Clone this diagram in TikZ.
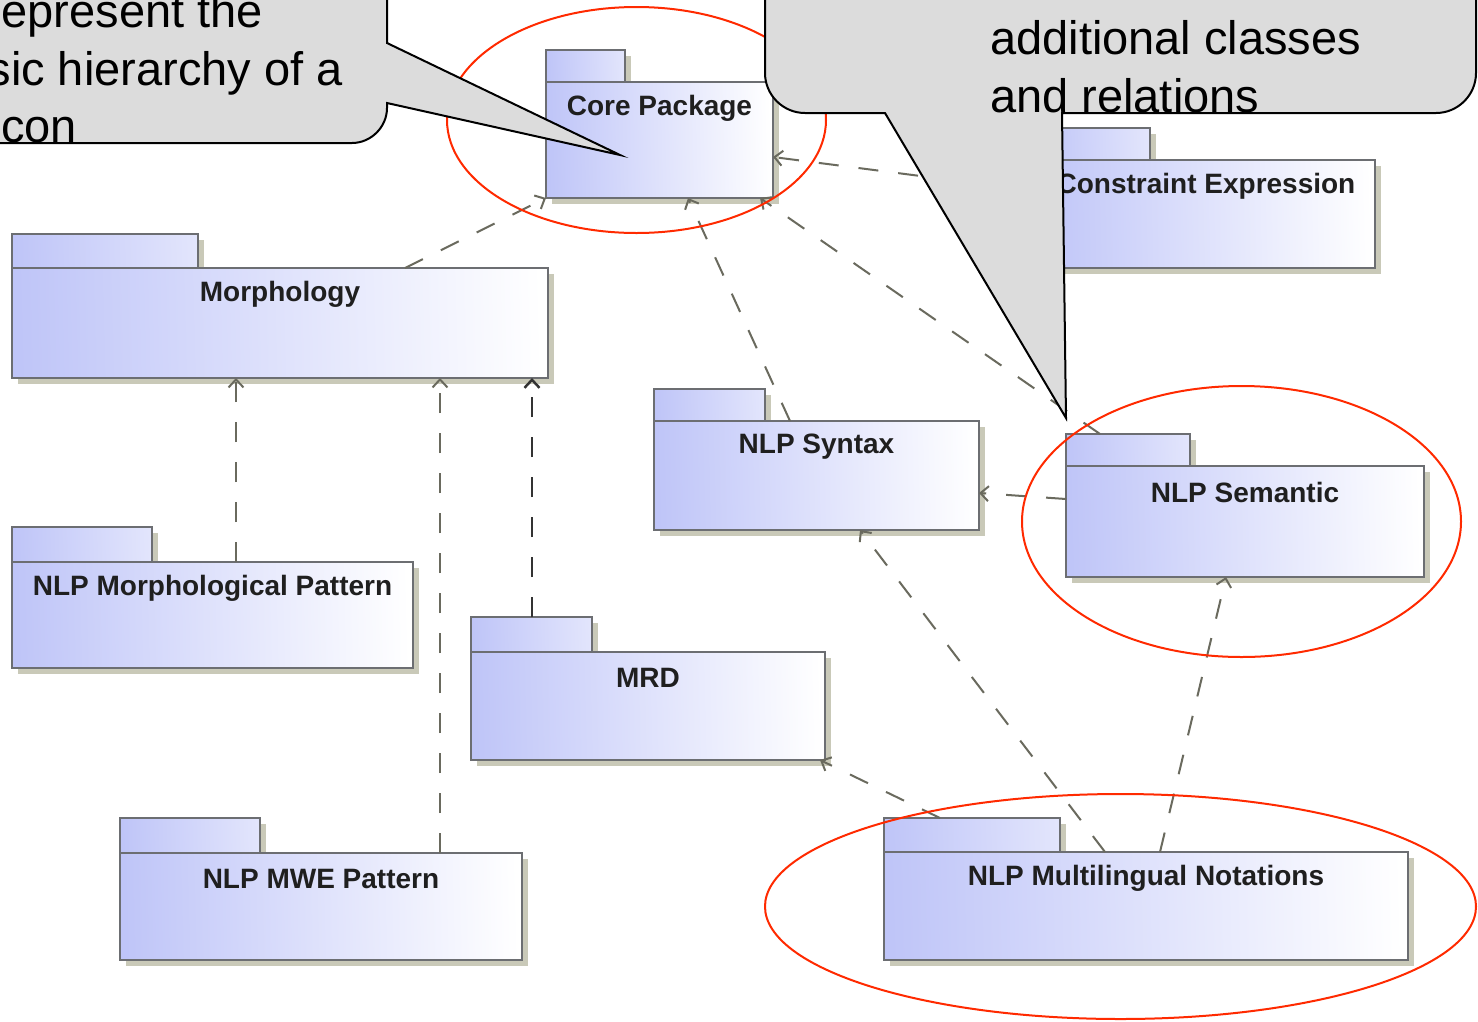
\documentclass[tikz,border=0pt]{standalone}
\usepackage{fontspec}
\setmainfont{Liberation Sans}
\usetikzlibrary{arrows.meta,calc}

\definecolor{pkgblue}{HTML}{BFC5F8}
\definecolor{pkgline}{HTML}{6C6E72}
\definecolor{pkgshadow}{HTML}{C9C9B8}
\definecolor{depgray}{HTML}{6A6A5E}
\definecolor{depdark}{HTML}{333333}
\definecolor{ringred}{HTML}{FF2A00}
\definecolor{notegray}{HTML}{DCDCDC}

\tikzset{
  pkgpart/.style={anchor=north west, inner sep=0pt, outer sep=0pt,
    draw=pkgline, line width=2.5pt},
  pkgbodyfill/.style={left color=pkgblue, right color=white, shading angle=91.5},
  pkgtabfill/.style={left color=pkgblue, right color=pkgblue!45!white, shading angle=92},
  pkglabel/.style={inner sep=0pt, text=black!88,
    font=\fontsize{28}{30}\selectfont\bfseries},
  dep/.style={draw=depgray, line width=2pt, dash pattern=on 20pt off 20pt,
    -{Straight Barb[length=8pt,width=15pt]}},
  depstrong/.style={dep, draw=depdark, line width=2.5pt},
  ring/.style={draw=ringred, line width=2pt},
  note/.style={fill=notegray, draw=black, line width=2pt, line join=miter},
  notetext/.style={inner sep=0pt, font=\fontsize{47}{57}\selectfont}
}

% UML package: name, left x, tab top, tab right, body top, right x, bottom, label
\newcommand\umlpkg[8]{%
  \fill[pkgshadow] (#2+6,#3+6) rectangle (#4+6,#5+6);
  \fill[pkgshadow] (#2+6,#5+6) rectangle (#6+6,#7+6);
  \node[pkgpart, pkgtabfill, minimum width=#4pt-#2pt, minimum height=#5pt-#3pt] (#1tab) at (#2,#3) {};
  \node[pkgpart, pkgbodyfill, minimum width=#6pt-#2pt, minimum height=#7pt-#5pt] (#1) at (#2,#5) {};
  \node[pkglabel] at ([yshift=-26pt]#1.north) {#8};
}

\begin{document}
\begin{tikzpicture}[x=1pt, y=-1pt]
\useasboundingbox (0,0) rectangle (1478,1021);
\fill[white] (0,0) rectangle (1478,1021);

% packages
\umlpkg{cexp}{1037}{128}{1150}{160}{1375}{268}{Constraint Expression}
\umlpkg{core}{546}{50}{625}{82}{773}{198}{Core Package}
\umlpkg{morph}{12}{234}{198}{268}{548}{378}{Morphology}
\umlpkg{syntax}{654}{389}{765}{421}{979}{530}{NLP Syntax}
\umlpkg{sem}{1066}{434}{1190}{466}{1424}{577}{NLP Semantic}
\umlpkg{mpat}{12}{527}{152}{562}{413}{668}{NLP Morphological Pattern}
\umlpkg{mrd}{471}{617}{592}{652}{825}{760}{MRD}
\umlpkg{mwe}{120}{818}{260}{853}{522}{960}{NLP MWE Pattern}
\umlpkg{multi}{884}{818}{1060}{852}{1408}{960}{NLP Multilingual Notations}

% dependencies
\draw[dep] ($(morph.north west)+(393,0)$) -- (core.south west);
\draw[dep] ($(syntax.north west)+(136,0)$) -- ($(core.south west)+(142,0)$);
\draw[dep] ($(semtab.north west)+(34,0)$) -- ($(core.south west)+(214,0)$);
\draw[dep] ($(cexp.north west)+(0,31)$) -- ($(core.north east)+(0,75)$);
\draw[dep] ($(sem.north west)+(0,33)$) -- ($(syntax.north east)+(0,72)$);
\draw[dep] ($(mpat.north west)+(224,0)$) -- ($(morph.south west)+(224,0)$);
\draw[dep] ($(mwe.north west)+(320,0)$) -- ($(morph.south west)+(428,0)$);
\draw[depstrong] ($(mrdtab.north west)+(61,0)$) -- ($(morph.south west)+(520,0)$);
\draw[dep] ($(multi.north west)+(221,0)$) -- ($(syntax.south west)+(206,0)$);
\draw[dep] ($(multitab.north west)+(56,0)$) -- ($(mrd.south east)+(-5,0)$);
\draw[dep] ($(multi.north west)+(276,0)$) -- ($(sem.south west)+(160,0)$);

% highlight rings
\draw[ring] (636.5,120) ellipse [x radius=189.5pt, y radius=113pt];
\draw[ring] (1241.5,521.5) ellipse [x radius=219.5pt, y radius=135.5pt];
\draw[ring] (1120.5,906.5) ellipse [x radius=355.5pt, y radius=112.5pt];

% callouts
\draw[note] (-5,-5) -- (387,-5) -- (387,43) -- (620,155) -- (387,103) -- (387,108)
  .. controls (387,127) and (371,143) .. (352,143) -- (-5,143) -- cycle;
\node[notetext, anchor=base east] (la) at (263,27) {epresent the};
\node[notetext, anchor=base east] (lb) at (343,85) {sic hierarchy of a};
\node[notetext, anchor=base east] (lc) at (77,142) {con};

\draw[note] (765,-5) -- (765,73) .. controls (765,95) and (783,113) .. (805,113)
  -- (885,113) -- (1066,418) -- (1062,113) -- (1436,113)
  .. controls (1458,113) and (1476,95) .. (1476,73) -- (1476,-5) -- cycle;
\node[notetext, anchor=base west] (ra) at (990,54) {additional classes};
\node[notetext, anchor=base west] (rb) at (990,112) {and relations};
\end{tikzpicture}
\end{document}
